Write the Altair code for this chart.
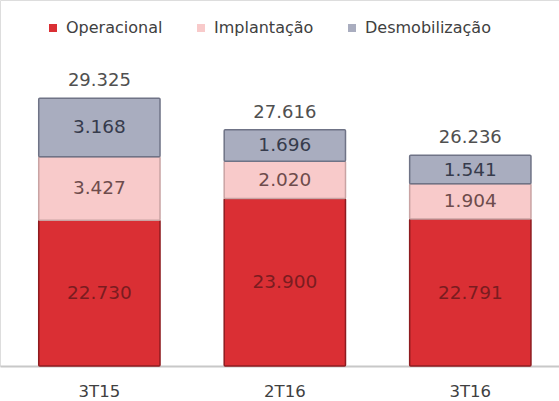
import altair as alt
import pandas as pd

periods = ["3T15", "2T16", "3T16"]
series = ["Operacional", "Implantação", "Desmobilização"]
operacional = [22730, 23900, 22791]
implantacao = [3427, 2020, 1904]
desmobilizacao = [3168, 1696, 1541]
totals = [29325, 27616, 26236]

colors = ["#da2f34", "#f8caca", "#a9adbf"]
strokes = ["#8e1b1f", "#c9a3a3", "#6f7386"]
label_colors = ["#7a1c20", "#6e4c4c", "#363b4c"]

# truncated value axis: the baseline sits at this value
axis_min = 14850
axis_max = 34630


def fmt(v):
    return f"{v:,}".replace(",", ".")


# stacked segments with explicit bounds
rows = []
for i, p in enumerate(periods):
    base = 0
    for name, vals in zip(series, [operacional, implantacao, desmobilizacao]):
        v = vals[i]
        top = base + v
        # label centred in the visible part of the segment
        mid = (max(base, axis_min) + top) / 2
        rows.append({"periodo": p, "serie": name, "y0": base, "y1": top,
                     "mid": mid, "rotulo": fmt(v)})
        base = top
seg = pd.DataFrame(rows)

tot = pd.DataFrame({"periodo": periods, "total": totals,
                    "rotulo": [fmt(t) for t in totals]})

y_scale = alt.Scale(domain=[axis_min, axis_max], clamp=True, zero=False, nice=False)
x_enc = alt.X(
    "periodo:N", sort=periods, title=None,
    scale=alt.Scale(paddingInner=0.346, paddingOuter=0.18, align=0.58),
    axis=alt.Axis(labelAngle=0, labelFont="DejaVu Sans", labelFontSize=16.5,
                  labelColor="#404040", labelPadding=17, ticks=False,
                  domainColor="#c8c8c8", domainWidth=2),
)

bars = alt.Chart(seg).mark_bar(strokeWidth=1.5, cornerRadius=1).encode(
    x=x_enc,
    y=alt.Y("y0:Q", scale=y_scale, axis=None),
    y2="y1:Q",
    fill=alt.Fill("serie:N", sort=series,
                  scale=alt.Scale(domain=series, range=colors),
                  legend=alt.Legend(title=None, orient="none", direction="horizontal",
                                    legendX=45, legendY=20, symbolType="square",
                                    symbolSize=64, symbolStrokeWidth=0,
                                    labelFont="DejaVu Sans", labelFontSize=16,
                                    labelColor="#404040", columnPadding=30,
                                    labelOffset=5)),
    stroke=alt.Stroke("serie:N", sort=series,
                      scale=alt.Scale(domain=series, range=strokes), legend=None),
)

seg_text = alt.Chart(seg).mark_text(
    font="DejaVu Sans", fontSize=18.5, baseline="middle"
).encode(
    x=alt.X("periodo:N", sort=periods),
    y=alt.Y("mid:Q", scale=y_scale),
    text="rotulo:N",
    color=alt.Color("serie:N", sort=series,
                    scale=alt.Scale(domain=series, range=label_colors), legend=None),
)

tot_text = alt.Chart(tot).mark_text(
    font="DejaVu Sans", fontSize=18, baseline="bottom", color="#505050", dy=-8
).encode(
    x=alt.X("periodo:N", sort=periods),
    y=alt.Y("total:Q", scale=y_scale),
    text="rotulo:N",
)

chart = alt.layer(bars, seg_text, tot_text).properties(
    width=559, height=366,
    padding={"left": 0, "right": 0, "top": 0, "bottom": 35},
    autosize=alt.AutoSizeParams(type="none"),
).configure_view(stroke=None).configure(background="white")

chart.save("out.html", embed_options={"renderer": "svg", "actions": False})
